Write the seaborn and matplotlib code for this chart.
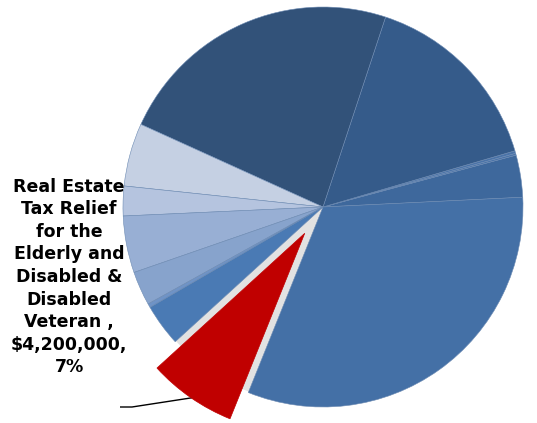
import matplotlib
matplotlib.use("Agg")
import matplotlib.pyplot as plt
from matplotlib.patches import Circle
import seaborn as sns

sns.set_theme(style="white")
plt.rcParams["font.family"] = ["DejaVu Sans"]

# Budget components in dollars, listed counter-clockwise from the start angle
categories = [
    "Component K", "Component L", "Component M", "Component A", "Component B",
    "Component C", "Component D", "Component E", "Component F", "Component G",
    "Component H",
    "Real Estate Tax Relief for the Elderly and Disabled & Disabled Veteran",
    "Component J",
]
amounts = [
    2_000_000, 90_000, 120_000, 9_060_000, 13_700_000,
    3_000_000, 1_410_000, 2_700_000, 1_620_000, 180_000,
    2_000_000, 4_200_000, 18_750_000,
]
colors = [
    "#3e689c", "#4a73a8", "#4a73a8", "#355b8a", "#325279",
    "#c5d0e3", "#b5c4df", "#98afd4", "#87a3cc", "#6f93c6",
    "#4a7ab4", "#c00000", "#4470a6",
]
highlight = 11
label_text = "Real Estate\nTax Relief\nfor the\nElderly and\nDisabled &\nDisabled\nVeteran ,\n$4,200,000,\n7%"

fig = plt.figure(figsize=(5.37, 4.23), dpi=100)
ax = fig.add_axes([0, 0, 1, 1])

# soft grey base under the pie, visible where the highlighted slice is pulled out
ax.add_patch(Circle((0, 0), 0.995, facecolor="#e2e2e2", edgecolor="none", zorder=0))

explode = [0.16 if i == highlight else 0 for i in range(len(amounts))]
wedges, _ = ax.pie(
    amounts,
    colors=colors,
    explode=explode,
    startangle=2.8,
    counterclock=True,
    radius=1.0,
    wedgeprops=dict(edgecolor="#6d8bb3", linewidth=0.4),
)
for w in wedges:
    w.set_zorder(2)
red = wedges[highlight]
red.set_edgecolor("#c00000")
red.set_linewidth(0.5)
red.set_zorder(3)

ax.text(-1.27, -0.35, label_text, ha="center", va="center",
        fontsize=12.5, fontweight="bold", color="black", linespacing=1.33)
ax.plot([-1.015, -0.955, -0.63], [-1.0, -1.0, -0.95], color="black", lw=1.0,
        solid_capstyle="butt")

ax.set_xlim(-323 / 200, (537 - 323) / 200)
ax.set_ylim(-(423 - 207) / 200, 207 / 200)
ax.set_aspect("auto")
ax.axis("off")

fig.savefig("out.png", dpi=100)
